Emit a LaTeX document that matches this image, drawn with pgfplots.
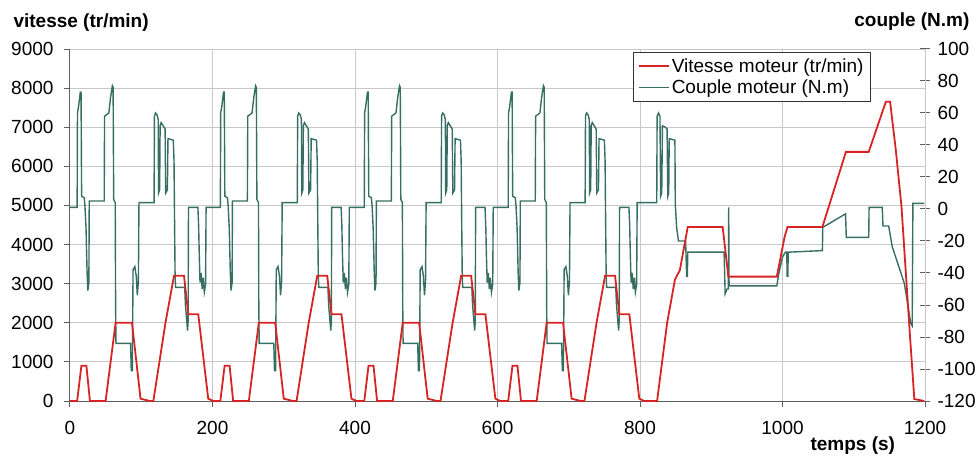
\documentclass[border=0pt]{standalone}
\usepackage{fontspec}
\setmainfont{Liberation Sans}
\usepackage{pgfplots}
\pgfplotsset{compat=1.18}
\definecolor{rouge}{RGB}{215,35,35}
\definecolor{vert}{RGB}{55,110,98}
\definecolor{grille}{RGB}{200,200,200}
\definecolor{axe}{RGB}{95,95,95}
\newcommand{\fs}{\fontsize{19}{22}\selectfont}
\begin{document}
\begin{tikzpicture}[font=\fs]
\path[use as bounding box] (-70pt,-54pt) rectangle (909pt,401pt);
% ---------- torque axis (right) ----------
\begin{axis}[
  scale only axis, width=855pt, height=352pt,
  at={(0pt,0pt)}, anchor=south west,
  xmin=0, xmax=1200, ymin=-120, ymax=100,
  axis x line*=bottom, axis y line*=right,
  xtick=\empty,
  extra x ticks={200,400,600,800,1000,1200},
  extra x tick labels={},
  extra x tick style={grid=major, major tick length=0pt},
  ytick={-120,-100,...,100},
  extra y ticks={-95.5556,-71.1111,-46.6667,-22.2222,2.2222,26.6667,51.1111,75.5556,100},
  extra y tick labels={},
  extra y tick style={grid=major, major tick length=0pt},
  grid style={grille, line width=0.8pt},
  axis line style={axe, line width=1pt},
  tick style={axe, line width=1pt},
  tick align=center, major tick length=10pt,
  ticklabel style={font=\fs, text=black},
  yticklabel style={xshift=4pt},
  /pgf/number format/assume math mode=true,
  /pgf/number format/1000 sep={},
]
\addplot[vert, line width=1.4pt] coordinates {
(0,1) (10,1) (10.5,60) (12,64) (14.5,73) (15.5,73) (16.3,8) (20,7) (21,2) (22.5,-12) (24,-40) (25,-51) (26.5,-46) (27,5)
(48,5) (48.5,58) (54.5,60) (57,70) (59.5,77) (60.5,76) (61.3,6) (63.5,4) (64,-60) (64.5,-84) (85,-84) (86,-101) (87.5,-101)
(88.5,-38) (91,-36) (93,-42) (94.5,-54) (96,-45) (96.8,4) (118,4) (118.5,58) (120,60) (122,59) (123.8,56) (124.3,10)
(125.8,12) (126.5,52) (128,54) (133.5,50) (134.3,10) (136.7,12) (137.5,44) (145,43) (146,30) (146.8,-10) (147.5,-42)
(148.2,-49) (161,-49) (162,-60) (163.5,-68) (165,-76) (165.8,-70) (166.3,1) (179.5,1) (180.5,-10) (181.5,-30) (182.5,-46)
(184,-40) (185.5,-50) (187,-43) (188.5,-52) (190.3,-47) (191,1)
(211,1) (211.5,60) (213,64) (215.5,73) (216.5,73) (217.3,8) (221,7) (222,2) (223.5,-12) (225,-40) (226,-51) (227.5,-46) (228,5)
(249,5) (249.5,58) (255.5,60) (258,70) (260.5,77) (261.5,76) (262.3,6) (264.5,4) (265,-60) (265.5,-84) (286,-84) (287,-101)
(288.5,-101) (289.5,-38) (292,-36) (294,-42) (295.5,-54) (297,-45) (297.8,4) (319,4) (319.5,58) (321,60) (323,59) (324.8,56)
(325.3,10) (326.8,12) (327.5,52) (329,54) (334.5,50) (335.3,10) (337.7,12) (338.5,44) (346,43) (347,30) (347.8,-10)
(348.5,-42) (349.2,-49) (362,-49) (363,-60) (364.5,-68) (366,-76) (366.8,-70) (367.3,1) (380.5,1) (381.5,-10) (382.5,-30)
(383.5,-46) (385,-40) (386.5,-50) (388,-43) (389.5,-52) (391.3,-47) (392,1)
(413,1) (413.5,60) (415,64) (417.5,73) (418.5,73) (419.3,8) (423,7) (424,2) (425.5,-12) (427,-40) (428,-51) (429.5,-46) (430,5)
(451,5) (451.5,58) (457.5,60) (460,70) (462.5,77) (463.5,76) (464.3,6) (466.5,4) (467,-60) (467.5,-84) (488,-84) (489,-101)
(490.5,-101) (491.5,-38) (494,-36) (496,-42) (497.5,-54) (499,-45) (499.8,4) (521,4) (521.5,58) (523,60) (525,59) (526.8,56)
(527.3,10) (528.8,12) (529.5,52) (531,54) (536.5,50) (537.3,10) (539.7,12) (540.5,44) (548,43) (549,30) (549.8,-10)
(550.5,-42) (551.2,-49) (564,-49) (565,-60) (566.5,-68) (568,-76) (568.8,-70) (569.3,1) (582.5,1) (583.5,-10) (584.5,-30)
(585.5,-46) (587,-40) (588.5,-50) (590,-43) (591.5,-52) (593.3,-47) (594,1)
(615,1) (615.5,60) (617,64) (619.5,73) (620.5,73) (621.3,8) (625,7) (626,2) (627.5,-12) (629,-40) (630,-51) (631.5,-46) (632,5)
(653,5) (653.5,58) (659.5,60) (662,70) (664.5,77) (665.5,76) (666.3,6) (668.5,4) (669,-60) (669.5,-84) (690,-84) (691,-101)
(692.5,-101) (693.5,-38) (696,-36) (698,-42) (699.5,-54) (701,-45) (701.8,4) (723,4) (723.5,58) (725,60) (727,59) (728.8,56)
(729.3,10) (730.8,12) (731.5,52) (733,54) (738.5,50) (739.3,10) (741.7,12) (742.5,44) (750,43) (751,30) (751.8,-10)
(752.5,-42) (753.2,-49) (766,-49) (767,-60) (768.5,-68) (770,-76) (770.8,-70) (771.3,1) (784.5,1) (785.5,-10) (786.5,-30)
(787.5,-46) (789,-40) (790.5,-50) (792,-43) (793.5,-52) (795.3,-47) (796,4)
(823.5,4) (824,58) (826,60) (828,58) (829,8) (830.5,10) (831.5,52) (836,51) (838,50) (839,8) (840.3,10) (841,44) (849,43)
(849.5,3) (851.5,-12) (854,-20) (864,-20) (865.5,-42) (866.5,-42) (867,-27) (918,-27) (919.5,-53) (922,-50) (924,-50)
(924.5,1) (925,-48) (992,-48) (995,-40) (1000,-30) (1004,-27) (1006,-27) (1006.5,-42) (1007.5,-42) (1008,-27) (1056,-26)
(1056.5,-11.5) (1088.5,-3) (1089.5,-17.7) (1121,-17.7) (1121.5,1) (1140,1) (1141,-10.6) (1149,-10.6) (1154,-23.5)
(1171,-46.5) (1180,-71.5) (1182,-73) (1183,3.5) (1199,3.5)
};
\end{axis}
% ---------- speed axis (left) ----------
\begin{axis}[
  scale only axis, width=855pt, height=352pt,
  at={(0pt,0pt)}, anchor=south west,
  xmin=0, xmax=1200, ymin=0, ymax=9000,
  axis x line*=bottom, axis y line*=left,
  xtick={0,200,...,1200}, ytick={0,1000,...,9000},
  axis line style={axe, line width=1pt},
  tick style={axe, line width=1pt},
  tick align=outside, major tick length=6pt,
  ticklabel style={font=\fs, text=black},
  yticklabel style={xshift=-7pt},
  xticklabel style={yshift=-11pt},
  /pgf/number format/assume math mode=true,
  /pgf/number format/1000 sep={},
  legend style={at={(0.9368,0.991)}, anchor=north east, draw=black!80, line width=0.8pt,
    font=\fs, fill=white, inner xsep=5pt, inner ysep=4pt, row sep=2pt, cells={anchor=west}},
  legend image code/.code={\draw[#1] (0pt,0pt) -- (30pt,0pt);},
]
\addplot[rouge, line width=1.8pt] coordinates {
(0,0) (10,0) (16,900) (23,900) (28,0) (50,0) (64,2000) (87,2000) (99,60) (112,0) (117,0) (134,2000) (146,3200) (160,3200) (166,2220) (180,2220) (194,60) (201,0)
(211,0) (217,900) (224,900) (229,0) (251,0) (265,2000) (288,2000) (300,60) (313,0) (318,0) (335,2000) (347,3200) (361,3200) (367,2220) (381,2220) (395,60) (402,0)
(413,0) (419,900) (426,900) (431,0) (453,0) (467,2000) (490,2000) (502,60) (515,0) (520,0) (537,2000) (549,3200) (563,3200) (569,2220) (583,2220) (597,60) (604,0)
(615,0) (621,900) (628,900) (633,0) (655,0) (669,2000) (692,2000) (704,60) (717,0) (722,0) (739,2000) (751,3200) (765,3200) (771,2220) (785,2220) (799,60) (806,0)
(824,0) (838,1990) (849,3100) (856,3350) (867,4450) (916,4450) (924,3180) (992,3180) (1003,4200) (1007,4450) (1056,4450) (1089,6370) (1121,6370) (1145,7650) (1151,7650) (1159,6420) (1167,4970) (1179,1640) (1185,50) (1199,0)
};
\addlegendentry{Vitesse moteur (tr/min)}
\addlegendimage{vert, line width=1.4pt}
\addlegendentry{Couple moteur (N.m)}
\end{axis}
\node[anchor=base west, font=\fs\bfseries] at (-60pt,373pt) {vitesse (tr/min)};
\node[anchor=base east, font=\fs\bfseries] at (903pt,374pt) {couple (N.m)};
\node[anchor=base west, font=\fs\bfseries] at (737pt,-49pt) {temps (s)};
\end{tikzpicture}
\end{document}
